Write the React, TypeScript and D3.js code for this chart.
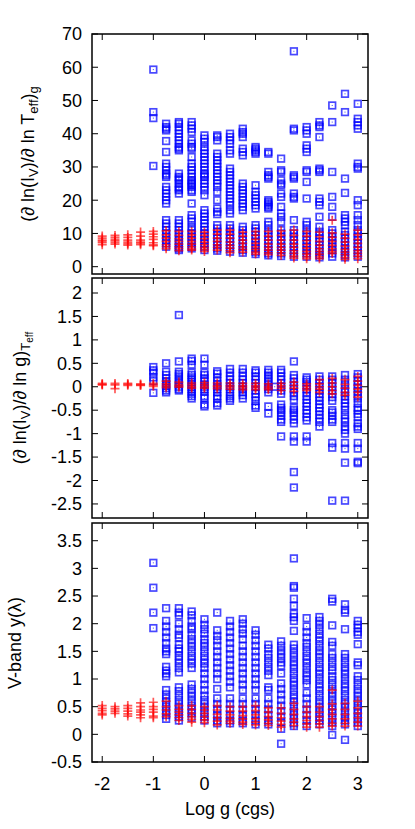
import React from "react";
import * as d3 from "d3";

// log g columns (cgs)
const loggCols = [-2, -1.75, -1.5, -1.25, -1, -0.75, -0.5, -0.25, 0, 0.25, 0.5, 0.75, 1, 1.25, 1.5, 1.75, 2, 2.25, 2.5, 2.75, 3];

// Panel 1: (d ln I_V / d ln Teff)_g
const blueDTeff: number[][] = [
  [], [], [], [],
  [59.3, 46.5, 44.7, 30.3],
  [43, 42, 41.5, 41, 37.8, 34.5, 31, 30, 29, 28, 27.5, 27, 24, 23, 22, 21, 20, 19, 14, 13, 12, 11, 10, 9, 8, 7, 6],
  [43.5, 43, 42, 41, 40, 39, 38, 37, 36, 35.5, 35, 28, 27, 26.5, 26, 25, 24, 23.5, 23, 22, 14, 13, 12, 11, 10, 9, 8, 7, 6, 5.5, 5],
  [43.5, 42.5, 41.5, 40.5, 38, 37, 36, 35.5, 33, 31, 30, 29, 28, 27, 26, 25.5, 25, 24.5, 24, 23, 22.5, 19, 15.5, 14.5, 13.5, 12, 11, 10, 9, 8, 7, 6, 5.5],
  [39.5, 38.5, 37.5, 36, 35, 34, 33, 32, 31, 30, 29, 28, 27.5, 27, 26, 25, 24, 23, 21.5, 17, 16, 15, 14, 13, 12, 11, 10, 9, 8, 7, 6, 5],
  [39.5, 39, 38, 34, 33, 32, 31, 30, 29, 28, 27, 26, 25, 24, 22.5, 20, 17.5, 16.5, 15.8, 12.5, 11.5, 10.5, 9.5, 8.5, 7.5, 6.5, 5.5, 4.8],
  [40, 39, 38, 37, 35, 34, 29.5, 28.5, 27.5, 26.5, 25.5, 24.5, 23.5, 22.5, 21.5, 20.5, 19.5, 18.5, 17, 16, 12.5, 11.5, 10.5, 9.5, 8.5, 7.5, 6.5, 5.5, 4.5],
  [41.5, 40.5, 40, 39, 35.5, 34.5, 33.5, 25, 24, 23, 22, 21, 20, 19, 18, 17, 12, 11, 10, 9, 8, 7, 6, 5, 4.2],
  [36, 35.5, 35, 34.5, 34, 24.5, 22.5, 21.5, 20.5, 19.5, 18.5, 17.5, 12.5, 11.5, 10.5, 9.5, 8.5, 7.5, 6.5, 5.5, 4.5, 3.8],
  [34.5, 34, 28.5, 27.5, 27, 26.5, 20, 19.5, 19, 18.5, 18, 17.5, 13.5, 12.5, 11, 10, 9, 8, 7, 6, 5, 4, 3.4],
  [32.5, 29, 28.5, 26, 25, 24.5, 22, 21, 18, 16, 15, 13.5, 11, 10, 9, 8, 7, 6, 5, 4, 3.2],
  [64.8, 41.5, 41, 27.5, 27, 26.5, 22, 21, 20.5, 14, 11, 10, 9, 8, 7, 6, 5, 4, 3],
  [42, 41, 40, 36.5, 35.5, 34.5, 29, 28.5, 25.5, 20.5, 13.5, 12.5, 11, 10, 9, 8, 7, 6, 5, 4, 3],
  [43.5, 42.5, 42, 39, 29.5, 29, 28.5, 20.5, 19.5, 18.5, 15, 12, 10.5, 9.5, 8.5, 7.5, 6.5, 5.5, 4.5, 3.5, 2.8],
  [48.5, 43.5, 28.5, 21, 18, 15, 11, 10, 9, 8, 7, 6, 5, 4, 3],
  [52, 46.5, 26.5, 22.2, 15.5, 14.5, 13.5, 12.5, 10.5, 9.5, 8.5, 7.5, 6.5, 5.5, 4.5, 3.5, 2.8],
  [49, 44.5, 43.5, 42.5, 41.5, 31, 30, 29.5, 20, 18.5, 15.5, 14, 12.5, 11, 10, 9, 8, 7, 6, 5, 4, 3],
];
const redDTeff: number[][] = [
  [9.2, 8.6, 8.0, 7.6, 7.2, 6.6],
  [9.4, 8.8, 8.2, 7.8, 7.3, 6.8],
  [9.6, 8.8, 8.0, 7.4, 6.9, 6.5],
  [10.4, 9.2, 8.0, 7.4, 7.0, 6.6],
  [10.6, 9.8, 9.0, 8.2, 7.2, 6.6, 6.3],
  [10.8, 9.6, 8.6, 7.6, 6.6, 6.0, 5.4],
  [10.6, 9.4, 8.4, 7.6, 6.8, 6.0, 5.4, 4.8],
  [10.6, 9.6, 8.6, 7.6, 6.8, 6.0, 5.4, 5.0],
  [10.4, 9.4, 8.4, 7.4, 6.6, 5.8, 5.2, 4.6],
  [11.0, 9.8, 8.6, 7.6, 6.6, 5.8, 5.0],
  [11.0, 9.8, 8.6, 7.4, 6.4, 5.6, 4.8, 4.2],
  [10.4, 9.2, 8.0, 7.0, 6.0, 5.2, 4.4],
  [10.6, 9.4, 8.2, 7.0, 6.0, 5.2, 4.4, 3.8],
  [10.6, 9.2, 8.0, 6.8, 5.8, 5.0, 4.2, 3.6],
  [10.8, 9.4, 8.0, 6.8, 5.8, 5.0, 4.2, 3.4],
  [11.0, 9.4, 8.0, 6.8, 5.8, 4.8, 4.0, 3.2, 2.6],
  [10.6, 9.2, 7.8, 6.6, 5.6, 4.6, 3.8, 3.0, 2.4],
  [10.4, 9.0, 7.6, 6.4, 5.4, 4.6, 3.8, 3.0, 2.4],
  [14.0, 10.2, 8.8, 7.6, 6.4, 5.4, 4.6, 4.0],
  [9.8, 8.6, 7.4, 6.2, 5.2, 4.4, 3.6, 2.8, 2.2],
  [11.0, 9.6, 8.2, 7.0, 5.8, 4.8, 4.0, 3.2, 2.4],
];

// Panel 2: (d ln I_V / d ln g)_Teff
const blueDg: number[][] = [
  [], [], [], [],
  [0.42, 0.35, 0.3, 0.2, 0.12, -0.13],
  [0.5, 0.32, 0.25, 0.18, 0.12, 0.07, 0.02, -0.03, -0.08, -0.12],
  [1.53, 0.54, 0.32, 0.27, 0.22, 0.15, 0.1, 0.05, 0, -0.05, -0.08],
  [0.6, 0.55, 0.47, 0.3, 0.25, 0.2, 0.15, 0.1, 0.05, 0, -0.05, -0.1, -0.15, -0.2, -0.25],
  [0.6, 0.47, 0.3, 0.25, 0.18, 0.12, 0.05, 0, -0.05, -0.1, -0.2, -0.25, -0.38, -0.42],
  [0.33, 0.28, 0.2, 0.12, 0.05, 0, -0.05, -0.12, -0.2, -0.25, -0.35, -0.4],
  [0.38, 0.3, 0.22, 0.15, 0.08, 0, -0.05, -0.12, -0.2, -0.25, -0.3],
  [0.38, 0.3, 0.22, 0.15, 0.08, 0, -0.06, -0.12, -0.18, -0.25],
  [0.35, 0.3, 0.22, 0.15, 0.08, 0, -0.08, -0.15, -0.22, -0.3, -0.4, -0.45],
  [0.36, 0.3, 0.24, 0.18, 0.12, 0.06, 0, -0.05, -0.12, -0.42, -0.57],
  [0.36, 0.3, 0.22, 0.15, 0.08, 0, -0.08, -0.15, -0.38, -0.45, -0.5, -0.55, -0.62, -0.7, -0.75, -1.06],
  [0.54, 0.25, 0.18, 0.1, 0.02, -0.05, -0.12, -0.2, -0.28, -0.45, -0.5, -0.55, -0.62, -0.7, -0.78, -1.06, -1.17, -1.82, -2.15],
  [0.2, 0.15, 0.1, 0.03, -0.05, -0.12, -0.2, -0.28, -0.35, -0.42, -0.5, -0.57, -0.65, -0.72, -1.06, -1.17],
  [0.22, 0.15, 0.08, 0, -0.08, -0.15, -0.22, -0.3, -0.38, -0.45, -0.52, -0.6, -0.68, -0.75, -0.85],
  [0.22, 0.15, 0.08, 0, -0.08, -0.15, -0.22, -0.3, -0.5, -0.55, -0.62, -0.7, -0.75, -1.2, -1.3, -2.43],
  [0.25, 0.15, 0.05, -0.05, -0.12, -0.2, -0.28, -0.35, -0.42, -0.5, -0.6, -0.68, -0.75, -0.85, -0.92, -1.0, -1.2, -1.32, -1.62, -2.43],
  [0.27, 0.2, 0.12, 0.05, -0.02, -0.1, -0.18, -0.25, -0.35, -0.45, -0.5, -0.58, -0.65, -0.78, -0.85, -0.9, -1.2, -1.32, -1.6, -1.63],
];
const extraLoggDg = [1.375];
const extraBlueDg = [0.0];
const redDg: number[][] = [
  [0.07, 0.05, 0.04],
  [0.07, 0.04, -0.04],
  [0.07, 0.05, 0.03],
  [0.06, 0.04, 0.03],
  [0.07, 0.04, 0.01],
  [0.12, 0.06, 0.02, -0.02],
  [0.1, 0.05, 0.02, -0.01],
  [0.08, 0.04, 0.0, -0.03],
  [0.09, 0.04, 0.0, -0.03],
  [0.08, 0.03, 0.0, -0.04],
  [0.08, 0.03, -0.01, -0.05],
  [0.07, 0.02, -0.02, -0.06],
  [0.07, 0.02, -0.02, -0.06],
  [0.06, 0.01, -0.03, -0.06],
  [0.07, 0.02, -0.03, -0.08],
  [0.1, 0.03, -0.03, -0.1],
  [0.06, 0.01, -0.04, -0.08],
  [0.15, 0.06, 0.0, -0.05, -0.12],
  [0.18, 0.08, 0.0, -0.08, -0.15],
  [0.15, 0.05, -0.03, -0.12, -0.18],
  [0.22, 0.12, 0.03, -0.05, -0.12, -0.22],
];

// Panel 3: V-band y(lambda)
const blueY: number[][] = [
  [], [], [], [],
  [3.1, 2.65, 2.2, 1.92],
  [2.28, 2.05, 1.95, 1.85, 1.75, 1.65, 1.55, 1.5, 1.45, 1.22, 1.15, 1.1, 1.05, 0.8, 0.72, 0.65, 0.58, 0.5, 0.42, 0.35, 0.28],
  [2.28, 2.2, 2.15, 2.0, 1.9, 1.8, 1.75, 1.62, 1.55, 1.5, 1.42, 1.35, 1.28, 1.2, 1.12, 0.85, 0.78, 0.7, 0.62, 0.55, 0.48, 0.4, 0.32, 0.25],
  [2.22, 2.15, 2.05, 1.95, 1.9, 1.8, 1.72, 1.65, 1.58, 1.5, 1.42, 1.35, 1.28, 1.2, 0.9, 0.82, 0.75, 0.68, 0.6, 0.52, 0.45, 0.38, 0.3],
  [2.08, 1.98, 1.9, 1.82, 1.72, 1.65, 1.58, 1.5, 1.42, 1.35, 1.28, 1.2, 1.1, 1.0, 0.9, 0.8, 0.7, 0.62, 0.55, 0.48, 0.4, 0.32, 0.25],
  [2.2, 1.88, 1.78, 1.7, 1.6, 1.5, 1.4, 1.3, 1.2, 1.1, 1.0, 0.82, 0.65, 0.55, 0.45, 0.35, 0.25, 0.2],
  [2.05, 1.95, 1.85, 1.75, 1.65, 1.55, 1.45, 1.35, 1.25, 1.15, 1.05, 0.95, 0.85, 0.65, 0.55, 0.45, 0.35, 0.25, 0.2],
  [2.08, 2.0, 1.9, 1.82, 1.72, 1.6, 1.5, 1.4, 1.3, 1.2, 1.1, 1.0, 0.9, 0.8, 0.65, 0.55, 0.45, 0.35, 0.25, 0.2],
  [1.88, 1.8, 1.7, 1.6, 1.5, 1.4, 1.3, 1.2, 1.1, 1.0, 0.9, 0.8, 0.65, 0.55, 0.45, 0.35, 0.25, 0.18],
  [1.62, 1.55, 1.45, 1.38, 1.3, 1.22, 1.15, 1.07, 0.85, 0.8, 0.65, 0.55, 0.45, 0.35, 0.25, 0.18],
  [1.68, 1.6, 1.52, 1.45, 1.38, 1.3, 1.24, 1.1, 0.92, 0.82, 0.72, 0.62, 0.52, 0.42, 0.32, 0.22, 0.1, -0.17],
  [3.18, 2.68, 2.65, 2.45, 2.32, 2.18, 2.12, 2.05, 1.87, 1.62, 1.55, 1.47, 1.4, 1.32, 1.25, 1.18, 1.1, 1.02, 0.95, 0.88, 0.8, 0.72, 0.65, 0.58, 0.5, 0.42, 0.35, 0.28, 0.2, 0.15],
  [2.1, 1.95, 1.85, 1.75, 1.65, 1.58, 1.5, 1.42, 1.35, 1.28, 1.2, 1.12, 1.05, 0.98, 0.9, 0.75, 0.65, 0.55, 0.45, 0.35, 0.25, 0.15],
  [2.12, 2.05, 1.98, 1.9, 1.82, 1.75, 1.68, 1.6, 1.52, 1.45, 1.38, 1.3, 1.22, 1.15, 1.08, 1.0, 0.92, 0.85, 0.78, 0.7, 0.62, 0.55, 0.48, 0.4, 0.32, 0.25, 0.18],
  [2.45, 2.4, 1.97, 1.67, 1.6, 1.45, 1.38, 1.3, 1.22, 1.15, 1.05, 0.98, 0.9, 0.82, 0.75, 0.68, 0.6, 0.52, 0.45, 0.38, 0.3, 0.22, 0.15, -0.01],
  [2.35, 2.25, 2.2, 1.9, 1.45, 1.38, 1.3, 1.22, 1.15, 1.08, 1.0, 0.92, 0.85, 0.78, 0.7, 0.62, 0.55, 0.48, 0.4, 0.32, 0.25, 0.18, -0.1],
  [2.05, 1.98, 1.92, 1.85, 1.8, 1.63, 1.3, 1.25, 1.05, 0.98, 0.9, 0.82, 0.75, 0.68, 0.6, 0.52, 0.45, 0.38, 0.3, 0.22, 0.15],
];
const redY: number[][] = [
  [0.52, 0.47, 0.43, 0.38, 0.35],
  [0.5, 0.46, 0.42, 0.38],
  [0.52, 0.47, 0.42, 0.37, 0.33],
  [0.57, 0.5, 0.44, 0.4, 0.35, 0.3],
  [0.58, 0.5, 0.45, 0.4, 0.33, 0.3],
  [0.6, 0.5, 0.44, 0.37, 0.32],
  [0.52, 0.45, 0.4, 0.35, 0.3, 0.25],
  [0.52, 0.45, 0.38, 0.32, 0.27, 0.22],
  [0.5, 0.44, 0.38, 0.32, 0.26, 0.21],
  [0.52, 0.44, 0.36, 0.3, 0.24, 0.17],
  [0.5, 0.42, 0.35, 0.29, 0.24, 0.2],
  [0.5, 0.42, 0.34, 0.28, 0.22, 0.18],
  [0.52, 0.43, 0.35, 0.28, 0.22, 0.17],
  [0.48, 0.4, 0.32, 0.26, 0.2, 0.16],
  [0.48, 0.38, 0.3, 0.24, 0.18, 0.13],
  [0.56, 0.45, 0.36, 0.28, 0.22, 0.16],
  [0.5, 0.4, 0.32, 0.25, 0.19, 0.13],
  [0.5, 0.4, 0.32, 0.25, 0.19, 0.13],
  [0.8, 0.55, 0.45, 0.36, 0.28, 0.2, 0.15],
  [0.56, 0.45, 0.36, 0.28, 0.2, 0.15],
  [0.6, 0.48, 0.38, 0.3, 0.22, 0.15],
];

const xTicks = [-2, -1, 0, 1, 2, 3];
const yTicks1 = [0, 10, 20, 30, 40, 50, 60, 70];
const yTicks2 = [-2.5, -2, -1.5, -1, -0.5, 0, 0.5, 1, 1.5, 2];
const yTicks3 = [-0.5, 0, 0.5, 1, 1.5, 2, 2.5, 3, 3.5];

const FONT = "'Liberation Sans', Arial, Helvetica, sans-serif";
const L = 92, R = 368;
const x = d3.scaleLinear().domain([-2.2, 3.2]).range([L, R]);

type PanelProps = {
  top: number; bottom: number; domain: [number, number]; ticks: number[];
  blue: number[][]; red: number[][]; extraX?: number[]; extraV?: number[];
  showX: boolean;
};

function Panel({ top, bottom, domain, ticks, blue, red, extraX, extraV, showX }: PanelProps) {
  const y = d3.scaleLinear().domain(domain).range([bottom, top]);
  const sq = (cx: number, cy: number, k: string) => (
    <g key={k}>
      <rect x={cx - 3.3} y={cy - 3.3} width={6.6} height={6.6} fill="none" stroke="#0000ff" strokeOpacity={0.72} strokeWidth={1.7} />
      <rect x={cx - 0.5} y={cy - 0.5} width={1} height={1} fill="#0000ff" fillOpacity={0.75} />
    </g>
  );
  const fmt = (v: number) => String(v);
  return (
    <g>
      <defs>
        <clipPath id={`clip${top}`}>
          <rect x={L} y={top} width={R - L} height={bottom - top} />
        </clipPath>
      </defs>
      <g clipPath={`url(#clip${top})`}>
        {loggCols.flatMap((g, i) => blue[i].map((v, j) => sq(x(g), y(v), `b${i}-${j}`)))}
        {(extraX || []).map((g, i) => sq(x(g), y(extraV![i]), `e${i}`))}
        {loggCols.flatMap((g, i) =>
          red[i].map((v, j) => {
            const cx = x(g), cy = y(v);
            return (
              <path key={`r${i}-${j}`} d={`M${cx - 4.5},${cy}h9M${cx},${cy - 4.5}v9`} stroke="#ff0000" strokeOpacity={0.65} strokeWidth={1.7} fill="none" />
            );
          })
        )}
      </g>
      {ticks.map((t) => (
        <g key={`yt${t}`}>
          <line x1={L} x2={L + 6} y1={y(t)} y2={y(t)} stroke="#000" strokeWidth={1} />
          <line x1={R} x2={R - 6} y1={y(t)} y2={y(t)} stroke="#000" strokeWidth={1} />
          <text x={82} y={y(t)} dy="0.35em" textAnchor="end" fontFamily={FONT} fontSize={18} fill="#000">{fmt(t)}</text>
        </g>
      ))}
      {xTicks.map((t) => (
        <g key={`xt${t}`}>
          <line x1={x(t)} x2={x(t)} y1={bottom} y2={bottom - 6} stroke="#000" strokeWidth={1} />
          <line x1={x(t)} x2={x(t)} y1={top} y2={top + 6} stroke="#000" strokeWidth={1} />
          {showX && (
            <text x={x(t)} y={790} textAnchor="middle" fontFamily={FONT} fontSize={18} fill="#000">{fmt(t)}</text>
          )}
        </g>
      ))}
      <rect x={L} y={top} width={R - L} height={bottom - top} fill="none" stroke="#000" strokeWidth={1.5} />
    </g>
  );
}

export default function App() {
  return (
    <svg width={415} height={829} viewBox="0 0 415 829" style={{ display: "block", position: "absolute", left: 0, top: 0, background: "#fff" }}>
      <rect x={0} y={0} width={415} height={829} fill="#fff" />
      <Panel top={34} bottom={274} domain={[-2.2, 70]} ticks={yTicks1} blue={blueDTeff} red={redDTeff} showX={false} />
      <Panel top={278} bottom={518} domain={[-2.8, 2.32]} ticks={yTicks2} blue={blueDg} red={redDg} extraX={extraLoggDg} extraV={extraBlueDg} showX={false} />
      <Panel top={523} bottom={762} domain={[-0.5, 3.82]} ticks={yTicks3} blue={blueY} red={redY} showX={true} />

      <text transform="translate(34,154) rotate(-90)" textAnchor="middle" fontFamily={FONT} fontSize={18} fill="#000">
        (∂ ln(I<tspan fontSize={13} dy={4}>V</tspan><tspan dy={-4}>)/∂ ln T</tspan><tspan fontSize={13} dy={4}>eff</tspan><tspan dy={-4}>)</tspan><tspan fontSize={13} dy={4}>g</tspan>
      </text>
      <text transform="translate(26,398) rotate(-90)" textAnchor="middle" fontFamily={FONT} fontSize={18} fill="#000">
        (∂ ln(I<tspan fontSize={13} dy={4}>V</tspan><tspan dy={-4}>)/∂ ln g)</tspan><tspan fontSize={13} dy={4}>T</tspan><tspan fontSize={10} dy={3}>eff</tspan>
      </text>
      <text transform="translate(21,643) rotate(-90)" textAnchor="middle" fontFamily={FONT} fontSize={18} fill="#000">
        V-band y(λ)
      </text>
      <text x={230} y={815} textAnchor="middle" fontFamily={FONT} fontSize={18} fill="#000">Log g (cgs)</text>
    </svg>
  );
}
